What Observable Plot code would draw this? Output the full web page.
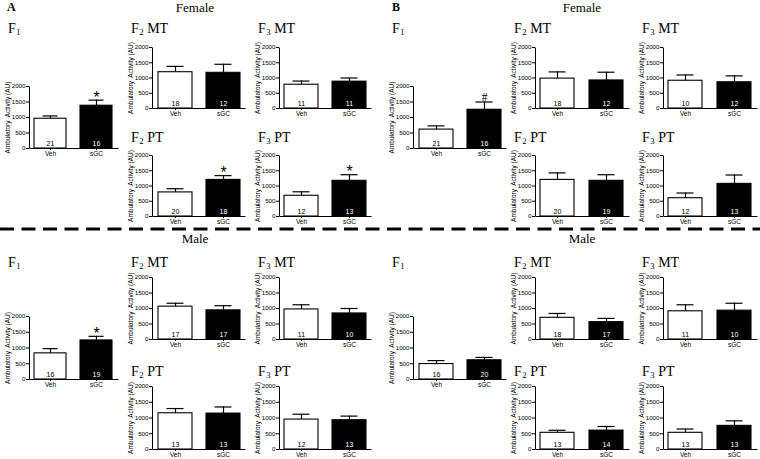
<!DOCTYPE html>
<html><head><meta charset="utf-8">
<script src="https://cdn.jsdelivr.net/npm/d3@7"></script>
<script src="https://cdn.jsdelivr.net/npm/@observablehq/plot@0.6"></script>
<style>
body{margin:0;background:#fff;}
#root{position:relative;width:760px;height:459px;overflow:hidden;background:#fff;}
.lbl{position:absolute;font-family:"Liberation Serif","Times New Roman",serif;color:#000;white-space:nowrap;line-height:14px;height:14px;}
.lbl sub{font-size:0.62em;vertical-align:-0.2em;line-height:0;margin-left:0.5px;}
.sub{position:absolute;}
.sub svg{overflow:visible;background:transparent;max-width:none;display:block;}
</style></head><body><div id="root"></div>
<script>
// ---------- data ----------
const treatments = ["Veh", "sGC"];
const panels = ["A", "B"];
const sexes = ["Female", "Male"];
const cohorts = ["F1", "F2 MT", "F3 MT", "F2 PT", "F3 PT"];
const yTicks = [0, 500, 1000, 1500, 2000];
const yLabel = "Ambulatory  Activity (AU)";

// Panel A, female: [Veh, sGC] per cohort
const meanAFemale = [[960, 1380], [1190, 1170], [780, 880], [790, 1200], [680, 1170]];
const semAFemale  = [[90, 180], [190, 280], [120, 120], [120, 140], [130, 200]];
const nAFemale    = [[21, 16], [18, 12], [11, 11], [20, 18], [12, 13]];
const sigAFemale  = [["", "*"], ["", ""], ["", ""], ["", "*"], ["", "*"]];

// Panel B, female
const meanBFemale = [[610, 1250], [980, 920], [910, 860], [1200, 1170], [600, 1070]];
const semBFemale  = [[120, 250], [220, 270], [190, 210], [230, 200], [170, 290]];
const nBFemale    = [[21, 16], [18, 12], [10, 12], [20, 19], [12, 13]];
const sigBFemale  = [["", "#"], ["", ""], ["", ""], ["", ""], ["", ""]];

// Panel A, male
const meanAMale = [[830, 1240], [1060, 940], [970, 840], [1150, 1140], [950, 930]];
const semAMale  = [[150, 130], [110, 150], [150, 160], [150, 210], [170, 130]];
const nAMale    = [[16, 19], [17, 17], [11, 10], [13, 13], [12, 13]];
const sigAMale  = [["", "*"], ["", ""], ["", ""], ["", ""], ["", ""]];

// Panel B, male
const meanBMale = [[490, 610], [700, 560], [910, 930], [530, 600], [530, 750]];
const semBMale  = [[110, 90], [140, 120], [210, 240], [80, 130], [120, 160]];
const nBMale    = [[16, 20], [18, 17], [11, 10], [13, 14], [13, 13]];
const sigBMale  = [["", ""], ["", ""], ["", ""], ["", ""], ["", ""]];

const series = {
  A: {Female: [meanAFemale, semAFemale, nAFemale, sigAFemale], Male: [meanAMale, semAMale, nAMale, sigAMale]},
  B: {Female: [meanBFemale, semBFemale, nBFemale, sigBFemale], Male: [meanBMale, semBMale, nBMale, sigBMale]}
};

// ---------- layout ----------
const panelLayout = {
  A: {cols: [29, 152, 279], widths: [89, 93, 92], letterX: 7, headerX: 195},
  B: {cols: [413, 535, 663], widths: [93, 94, 94], letterX: 392, headerX: 582}
};
const sexLayout = {
  Female: {frames: [[86, 148], [47, 108], [47, 108], [155, 216], [155, 216]], titleY: [33, 33, 33, 142, 142], headerY: 12},
  Male:   {frames: [[316, 379], [277, 339], [277, 339], [386, 449], [386, 449]], titleY: [267, 267, 267, 376, 376], headerY: 243}
};
const cohortCol = [0, 1, 2, 1, 2];

const root = document.getElementById("root");

function addLabel(html, x, baseline, size, extra) {
  const d = document.createElement("div");
  d.className = "lbl";
  d.setAttribute("style", `left:${x}px;top:${baseline - 11}px;font-size:${size}px;${extra || ""}`);
  d.innerHTML = html;
  root.appendChild(d);
  return d;
}

function chart(data, W, H) {
  const mL = 30, mR = 4, mT = 14, mB = 12;
  const svg = Plot.plot({
    width: mL + W + mR, height: mT + H + mB,
    marginLeft: mL, marginRight: mR, marginTop: mT, marginBottom: mB,
    style: {fontFamily: "'Liberation Sans', Arial, sans-serif", background: "transparent", overflow: "visible", color: "black"},
    x: {domain: treatments, paddingInner: 0.3, paddingOuter: 0.1},
    y: {domain: [0, 2000]},
    color: {domain: treatments, range: ["white", "black"]},
    marks: [
      Plot.barY(data, {x: "group", y: "mean", fill: "group", stroke: "black", strokeWidth: 1.1}),
      Plot.ruleX(data, {x: "group", y1: "mean", y2: d => d.mean + d.sem, stroke: "black", strokeWidth: 1.2}),
      Plot.tickY(data, {x: "group", y: d => d.mean + d.sem, insetLeft: 8.5, insetRight: 8.5, stroke: "black", strokeWidth: 1.2}),
      Plot.text(data.filter(d => d.group === "Veh"), {x: "group", y: 0, text: d => String(d.n), fill: "black", dy: -5, fontSize: 7}),
      Plot.text(data.filter(d => d.group === "sGC"), {x: "group", y: 0, text: d => String(d.n), fill: "white", dy: -5, fontSize: 7}),
      Plot.text(data.filter(d => d.sig === "*"), {x: "group", y: d => d.mean + d.sem, text: "sig", fill: "black", lineAnchor: "bottom", dy: 2.5, fontSize: 16}),
      Plot.text(data.filter(d => d.sig === "#"), {x: "group", y: d => d.mean + d.sem, text: "sig", fill: "black", lineAnchor: "bottom", dy: -1, fontSize: 11.5, fontFamily: "'Liberation Serif', serif"}),
      Plot.frame({strokeDasharray: `0 ${W + H} ${W + H}`, stroke: "black", strokeWidth: 1}),
      Plot.axisY({ticks: yTicks, tickFormat: "d", tickSize: 3, tickPadding: 1, fontSize: 6.2, label: null}),
      Plot.axisX({tickSize: 2, tickPadding: 1, fontSize: 6.5, label: null}),
      Plot.text([yLabel], {frameAnchor: "left", textAnchor: "middle", lineAnchor: "middle", rotate: -90, dx: -22, fontSize: 6.5, fill: "black"})
    ]
  });
  return {mL, mT, mR, svg};
}

// dashed separator
const sep = document.createElementNS("http://www.w3.org/2000/svg", "svg");
sep.setAttribute("width", 760); sep.setAttribute("height", 6);
sep.setAttribute("style", "position:absolute;left:0px;top:226px;");
sep.innerHTML = '<line x1="0" x2="760" y1="3" y2="3" stroke="black" stroke-width="3" stroke-dasharray="14 7.5"/>';
root.appendChild(sep);

for (const p of panels) {
  const pl = panelLayout[p];
  for (const s of sexes) {
    const sl = sexLayout[s];
    const [means, sems, ns, sigs] = series[p][s];
    cohorts.forEach((c, ci) => {
      const col = cohortCol[ci];
      const ax = pl.cols[col], W = pl.widths[col];
      const [top, bottom] = sl.frames[ci];
      const H = bottom - top;
      const data = treatments.map((g, gi) => ({group: g, mean: means[ci][gi], sem: sems[ci][gi], n: ns[ci][gi], sig: sigs[ci][gi]}));
      const {mL, mT, mR, svg} = chart(data, W, H);
      const wrap = document.createElement("div");
      wrap.className = "sub";
      wrap.setAttribute("style", `left:${ax - mL}px;top:${top - mT}px;width:${mL + W + mR}px;`);
      wrap.appendChild(svg);
      root.appendChild(wrap);
    });
  }
}
// text labels on top
for (const p of panels) {
  const pl = panelLayout[p];
  addLabel(p, pl.letterX, 11, 12, "font-weight:bold;");
  for (const s of sexes) {
    const sl = sexLayout[s];
    addLabel(s, pl.headerX - 50, sl.headerY, 13, "width:100px;text-align:center;");
    cohorts.forEach((c, ci) => {
      const ax = pl.cols[cohortCol[ci]];
      addLabel(`F<sub>${c[1]}</sub>${c.slice(2)}`, ax - 21, sl.titleY[ci], 14);
    });
  }
}
</script></body></html>
